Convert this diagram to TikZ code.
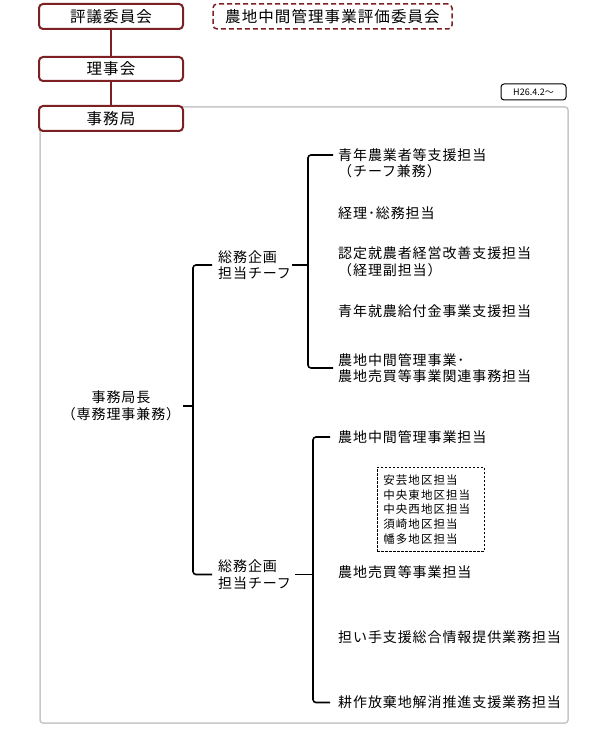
\documentclass[tikz,border=0pt]{standalone}
\usepackage{fontspec}
\setmainfont{Noto Sans CJK JP}
\newfontfamily\fbody[LetterSpace=6.5]{Noto Sans CJK JP}
\newfontfamily\ftop[LetterSpace=7]{Noto Sans CJK JP}
\newfontfamily\fsmall[LetterSpace=9]{Noto Sans CJK JP}
\definecolor{boxred}{RGB}{125,32,36}
\definecolor{framegray}{RGB}{200,200,200}
\tikzset{
  topbox/.style={draw=boxred, line width=2pt, rounded corners=4pt, fill=white,
    minimum width=144pt, minimum height=25pt, inner sep=0pt,
    font=\ftop\fontsize{15.5}{17}\selectfont},
  dashbox/.style={topbox, line width=1.5pt, dash pattern=on 5pt off 3pt, minimum width=239pt},
  conn/.style={draw=boxred, line width=2pt},
  datebox/.style={draw=black, line width=1pt, rounded corners=3pt, fill=white,
    minimum width=65pt, minimum height=16pt, inner sep=0pt,
    font=\fontsize{9}{10}\selectfont},
  body/.style={inner sep=0pt, font=\fbody\fontsize{14}{16.5}\selectfont},
  item/.style={body, anchor=west, align=left},
  areabox/.style={draw=black, line width=0.8pt, dash pattern=on 2.5pt off 1.5pt,
    anchor=north west, minimum width=107pt, minimum height=84pt,
    text width=95pt, align=left, inner xsep=6pt, inner ysep=0pt,
    font=\fsmall\fontsize{11.5}{14.75}\selectfont},
  brk/.style={draw=black, line width=1.6pt, rounded corners=3pt}
}
\begin{document}
\begin{tikzpicture}[x=1pt,y=-1pt]
\fill[white] (0,0) rectangle (596,751);
\useasboundingbox (0,0) rectangle (596,751);

% container frame
\draw[draw=framegray, line width=1.5pt, rounded corners=3pt] (40,107) rectangle (568,723);

% top boxes
\node[topbox] (hyogi) at (111,16.5) {評議委員会};
\node[dashbox] (hyoka) at (332.5,16.5) {農地中間管理事業評価委員会};
\node[topbox, minimum height=24pt] (riji) at (111,69) {理事会};
\node[topbox] (jimu) at (111,118.5) {事務局};
\draw[conn] (hyogi) -- (riji);
\draw[conn] (riji) -- (jimu);

\node[datebox] (date) at (533.5,92) {H26.4.2〜};

% head of office
\node[body, align=center] (boss) at (121,406) {事務局長\\（専務理事兼務）};
\node[item] (c1) at (218,265) {総務企画\\担当チーフ};
\node[item] (c2) at (218,574.5) {総務企画\\担当チーフ};

% team 1 items
\node[item] (i1) at (338,163.5) {青年農業者等支援担当\\（チーフ兼務）};
\node[item] (i2) at (338,213) {経理･総務担当};
\node[item] (i3) at (338,262) {認定就農者経営改善支援担当\\（経理副担当）};
\node[item] (i4) at (338,311.5) {青年就農給付金事業支援担当};
\node[item] (i5) at (338,368) {農地中間管理事業･\\農地売買等事業関連事務担当};

% team 2 items
\node[item] (j1) at (338,437) {農地中間管理事業担当};
\node[areabox] (areas) at (377,467) {安芸地区担当\\中央東地区担当\\中央西地区担当\\須崎地区担当\\幡多地区担当};
\node[item] (j2) at (338,572.5) {農地売買等事業担当};
\node[item] (j3) at (338,637.5) {担い手支援総合情報提供業務担当};
\node[item] (j4) at (338,702.5) {耕作放棄地解消推進支援業務担当};

% connectors
\coordinate (spx) at (193,400);
\coordinate (b1x) at (308,0);
\coordinate (b2x) at (313,0);
\draw[brk] ([xshift=3pt]boss.east) -- (boss.east -| spx);
\draw[brk] ([xshift=-6pt]c1.west) -- (c1.west -| spx) -- (c2.west -| spx) -- ([xshift=-6pt]c2.west);

\draw[brk] ([xshift=1pt]c1.east) -- (c1.east -| b1x);
\coordinate (i1t) at ([xshift=-5pt,yshift=8.5pt]i1.west);
\draw[brk] (i1t) -- (i1t -| b1x) -- (i5.west -| b1x) -- ([xshift=-5pt]i5.west);

\draw[brk] ([xshift=4pt]c2.east) -- (c2.east -| b2x);
\draw[brk] ([xshift=-8pt]j1.west) -- (j1.west -| b2x) -- (j4.west -| b2x) -- ([xshift=-8pt]j4.west);
\end{tikzpicture}
\end{document}
